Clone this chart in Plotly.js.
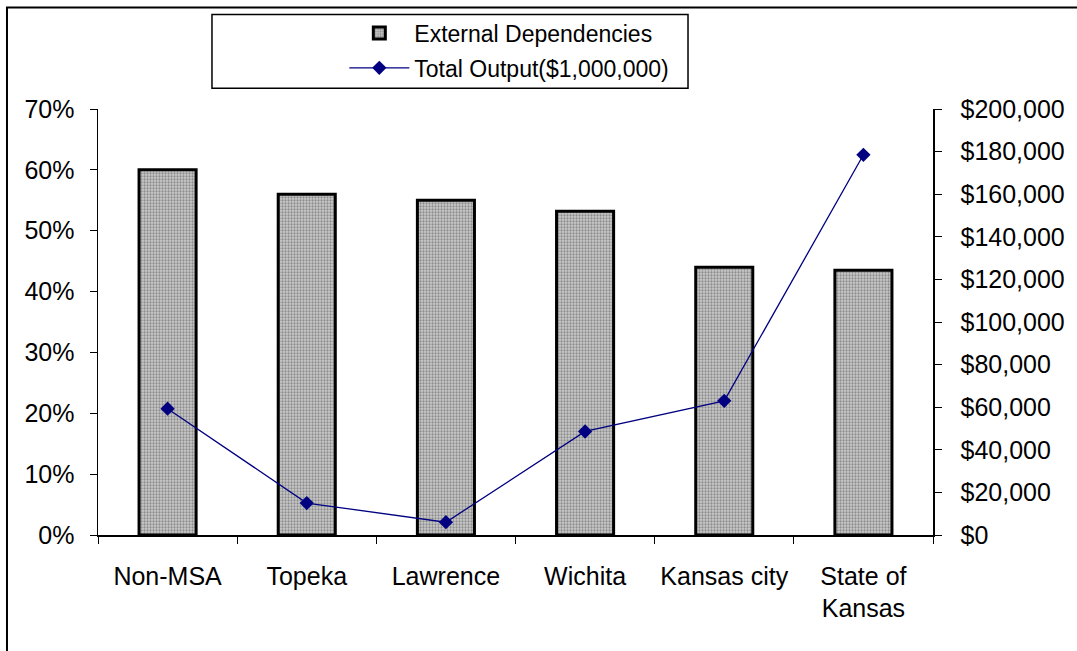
<!DOCTYPE html>
<html>
<head>
<meta charset="utf-8">
<script src="https://cdn.plot.ly/plotly-3.0.1.min.js"></script>
<style>html,body{margin:0;padding:0;background:#fff;}#chart{width:1077px;height:651px;}</style>
</head>
<body>
<div id="chart"></div>
<script>
const categories = ["Non-MSA", "Topeka", "Lawrence", "Wichita", "Kansas city", "State of<br>Kansas"];
const externalDependencies = [0.60, 0.56, 0.55, 0.532, 0.44, 0.435];
const totalOutput = [59300, 15000, 6000, 48600, 63000, 178500];
const leftTicks = [0, 0.1, 0.2, 0.3, 0.4, 0.5, 0.6, 0.7];
const leftTickText = ["0%", "10%", "20%", "30%", "40%", "50%", "60%", "70%"];
const rightTicks = [0, 20000, 40000, 60000, 80000, 100000, 120000, 140000, 160000, 180000, 200000];
const rightTickText = ["$0", "$20,000", "$40,000", "$60,000", "$80,000", "$100,000", "$120,000", "$140,000", "$160,000", "$180,000", "$200,000"];
const boundaryTicks = [-0.5, 0.5, 1.5, 2.5, 3.5, 4.5, 5.5];

const font = {family: "Liberation Sans, Arial, sans-serif", color: "#000"};
const tickSize = 25;

const traces = [
  {
    type: "bar",
    name: "External Dependencies",
    legendgroup: "a",
    x: categories,
    y: externalDependencies,
    width: 0.41,
    marker: {
      color: "#b4b4b4",
      line: {color: "#000", width: 3},
      pattern: {shape: ".", fgcolor: "#8c8c8c", bgcolor: "#cccccc", size: 3, solidity: 0.45}
    },
    hoverinfo: "skip"
  },
  {
    type: "scatter",
    mode: "lines+markers",
    name: "Total Output($1,000,000)",
    legendgroup: "b",
    x: categories,
    y: totalOutput,
    yaxis: "y2",
    line: {color: "#000080", width: 1.3},
    marker: {symbol: "diamond", size: 11, color: "#000080"},
    hoverinfo: "skip"
  }
];

const layout = {
  width: 1077,
  height: 651,
  margin: {l: 98, r: 144, t: 107, b: 116, pad: 0},
  paper_bgcolor: "#fff",
  plot_bgcolor: "rgba(0,0,0,0)",
  font: font,
  showlegend: true,
  legend: {
    x: 0.295, y: 1.229, xanchor: "left", yanchor: "top",
    bgcolor: "rgba(0,0,0,0)",
    font: {family: font.family, size: 23, color: "#000"},
    itemwidth: 60,
    traceorder: "grouped",
    tracegroupgap: 2
  },
  xaxis: {
    type: "category",
    categoryorder: "array",
    categoryarray: categories,
    range: [-0.5, 5.5],
    showline: true, linecolor: "#000", linewidth: 1.5,
    ticks: "outside", ticklen: 7, tickwidth: 1, tickcolor: "#000",
    tickson: "boundaries",
    tickfont: {family: font.family, size: tickSize, color: "#000"},
    ticklabelstandoff: 18,
    showgrid: false, zeroline: false, fixedrange: true
  },
  xaxis3: {
    overlaying: "x", anchor: "y",
    range: [-0.5, 5.5],
    tickvals: boundaryTicks,
    showticklabels: false,
    ticks: "inside", ticklen: 6, tickwidth: 1, tickcolor: "#000",
    showline: false, showgrid: false, zeroline: false, fixedrange: true
  },
  yaxis: {
    range: [0, 0.7],
    tickvals: leftTicks, ticktext: leftTickText,
    showline: true, linecolor: "#000", linewidth: 1.5,
    ticks: "outside", ticklen: 7, tickwidth: 1, tickcolor: "#000",
    tickfont: {family: font.family, size: tickSize, color: "#000"},
    ticklabelstandoff: 10,
    showgrid: false, zeroline: false, fixedrange: true
  },
  yaxis3: {
    overlaying: "y", anchor: "x", side: "left",
    range: [0, 0.7],
    tickvals: leftTicks,
    showticklabels: false,
    ticks: "inside", ticklen: 6, tickwidth: 1, tickcolor: "#000",
    showline: false, showgrid: false, zeroline: false, fixedrange: true
  },
  yaxis2: {
    overlaying: "y", side: "right", anchor: "x",
    range: [0, 200000],
    tickvals: rightTicks, ticktext: rightTickText,
    showline: true, linecolor: "#000", linewidth: 1.5,
    ticks: "outside", ticklen: 7, tickwidth: 1, tickcolor: "#000",
    tickfont: {family: font.family, size: tickSize, color: "#000"},
    ticklabelstandoff: 14,
    showgrid: false, zeroline: false, fixedrange: true
  },
  yaxis4: {
    overlaying: "y", side: "right", anchor: "x",
    range: [0, 200000],
    tickvals: rightTicks,
    showticklabels: false,
    ticks: "inside", ticklen: 6, tickwidth: 1, tickcolor: "#000",
    showline: false, showgrid: false, zeroline: false, fixedrange: true
  },
  shapes: [
    {type: "rect", xref: "paper", yref: "paper", x0: -0.109, x1: 1.3, y0: -0.5, y1: 1.238,
     line: {color: "#000", width: 2}, fillcolor: "rgba(0,0,0,0)", layer: "below"},
    {type: "rect", xref: "paper", yref: "paper", x0: 0.1365, x1: 0.7066, y0: 1.049, y1: 1.222,
     line: {color: "#000", width: 1.5}, fillcolor: "rgba(0,0,0,0)", layer: "below"}
  ]
};

Plotly.newPlot("chart", traces, layout, {displayModeBar: false, staticPlot: true});
</script>
</body>
</html>
